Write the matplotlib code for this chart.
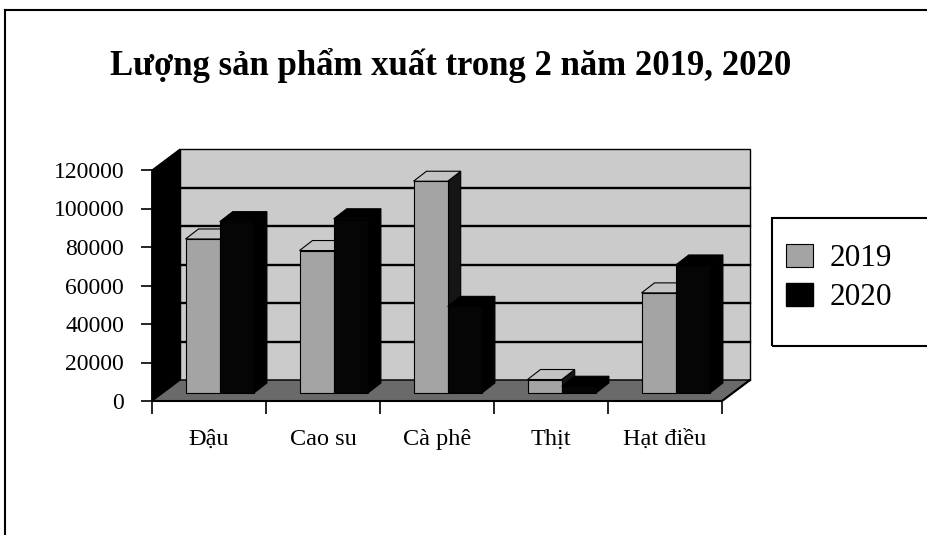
import matplotlib
matplotlib.use("Agg")
import matplotlib.pyplot as plt
from matplotlib.patches import Polygon, Rectangle, Patch
from matplotlib.lines import Line2D

plt.rcParams['font.family'] = ['Liberation Serif', 'DejaVu Serif']

title = 'Lượng sản phẩm xuất trong 2 năm 2019, 2020'
categories = ['Đậu', 'Cao su', 'Cà phê', 'Thịt', 'Hạt điều']
series_names = ['2019', '2020']
values_2019 = [80000, 74000, 110000, 7000, 52000]
values_2020 = [89000, 90500, 45000, 3500, 66500]
yticks = [0, 20000, 40000, 60000, 80000, 100000, 120000]

W, H = 928, 535
fig = plt.figure(figsize=(W / 100, H / 100), dpi=100)

ax = fig.add_axes([152 / W, 1 - 401 / H, 570 / W, 231 / H])
ymax = yticks[-1]
n = len(categories)
ax.set_xlim(0, n)
ax.set_ylim(0, ymax)
ax.patch.set_visible(False)
for k, s in ax.spines.items():
    s.set_visible(k == 'left')
ax.spines['left'].set_linewidth(1.2)

DX, DY = 0.2456, 10900     # depth of 3D box
bx, by = 0.094, 4160       # bar front offset
ddx, ddy = 0.114, 5200     # bar depth
bw = 0.3

def poly(pts, fc, ec='black', lw=0.8, z=1):
    ax.add_patch(Polygon(pts, closed=True, facecolor=fc, edgecolor=ec,
                         linewidth=lw, zorder=z, clip_on=False))

# back wall
poly([(DX, DY), (n + DX, DY), (n + DX, ymax + DY), (DX, ymax + DY)], '#cbcbcb', lw=1.0, z=1)
for t in yticks[1:-1]:
    ax.plot([DX, n + DX], [t + DY, t + DY], color='black', lw=1.7, zorder=2, clip_on=False)
# left wall
poly([(0, 0), (DX, DY), (DX, ymax + DY), (0, ymax)], 'black', z=2)
# floor
poly([(0, 0), (n, 0), (n + DX, DY), (DX, DY)], '#6a6a6a', lw=1.0, z=2)

centers = [i + 0.5 for i in range(n)]
x2019 = [c - bw + bx for c in centers]
x2020 = [c + bx for c in centers]

styles = [
    (x2019, values_2019, '#a4a4a4', '#c4c4c4', '#151515', 10),
    (x2020, values_2020, '#050505', '#000000', '#000000', 11),
]
for xs, vals, fc, tc, sc, z in styles:
    bars = ax.bar(xs, vals, width=bw, bottom=by, align='edge', color=fc,
                  edgecolor='black', linewidth=0.8, zorder=z, clip_on=False)
    for b in bars:
        x0 = b.get_x(); x1 = x0 + b.get_width()
        y0 = b.get_y(); y1 = y0 + b.get_height()
        poly([(x1, y0), (x1, y1), (x1 + ddx, y1 + ddy), (x1 + ddx, y0 + ddy)], sc, z=z - 0.1)
        poly([(x0, y1), (x1, y1), (x1 + ddx, y1 + ddy), (x0 + ddx, y1 + ddy)], tc, z=z - 0.1)

# front axis
ax.plot([0, n, n + DX], [0, 0, DY], color='black', lw=1.5, zorder=20, clip_on=False)

ax.set_yticks(yticks)
ax.set_yticklabels([str(t) for t in yticks])
ax.tick_params(axis='y', length=8, width=1.2, pad=12, labelsize=17, direction='out')
ax.set_xticks(range(n + 1))
ax.set_xticklabels([''] * (n + 1))
ax.set_xticks(centers, minor=True)
ax.set_xticklabels(categories, minor=True)
ax.tick_params(axis='x', which='major', length=9, width=1.2, direction='out')
ax.tick_params(axis='x', which='minor', length=0, pad=20, labelsize=17.5)

# title
fig.text(451 / W, 1 - 75 / H, title, ha='center', va='baseline',
         fontsize=25, fontweight='bold')

# legend
handles = [Patch(facecolor='#a4a4a4', edgecolor='black', linewidth=0.8),
           Patch(facecolor='black', edgecolor='black')]
fig.legend(handles, series_names, loc='upper left',
           bbox_to_anchor=(786 / W, 1 - 244 / H), frameon=False,
           fontsize=22.5, handlelength=0.85, handleheight=0.75,
           handletextpad=0.55, labelspacing=0.3, borderaxespad=0, borderpad=0)
fig.add_artist(Rectangle((772 / W, 1 - 346 / H), (945 - 772) / W, 128 / H,
                         transform=fig.transFigure, fill=False,
                         edgecolor='black', linewidth=1.5))

# outer border (top and left)
fig.add_artist(Line2D([5 / W, 1], [1 - 10 / H, 1 - 10 / H], transform=fig.transFigure,
                      color='black', lw=1.5))
fig.add_artist(Line2D([5 / W, 5 / W], [0, 1 - 10 / H], transform=fig.transFigure,
                      color='black', lw=1.5))

fig.savefig('out.png', dpi=100)
